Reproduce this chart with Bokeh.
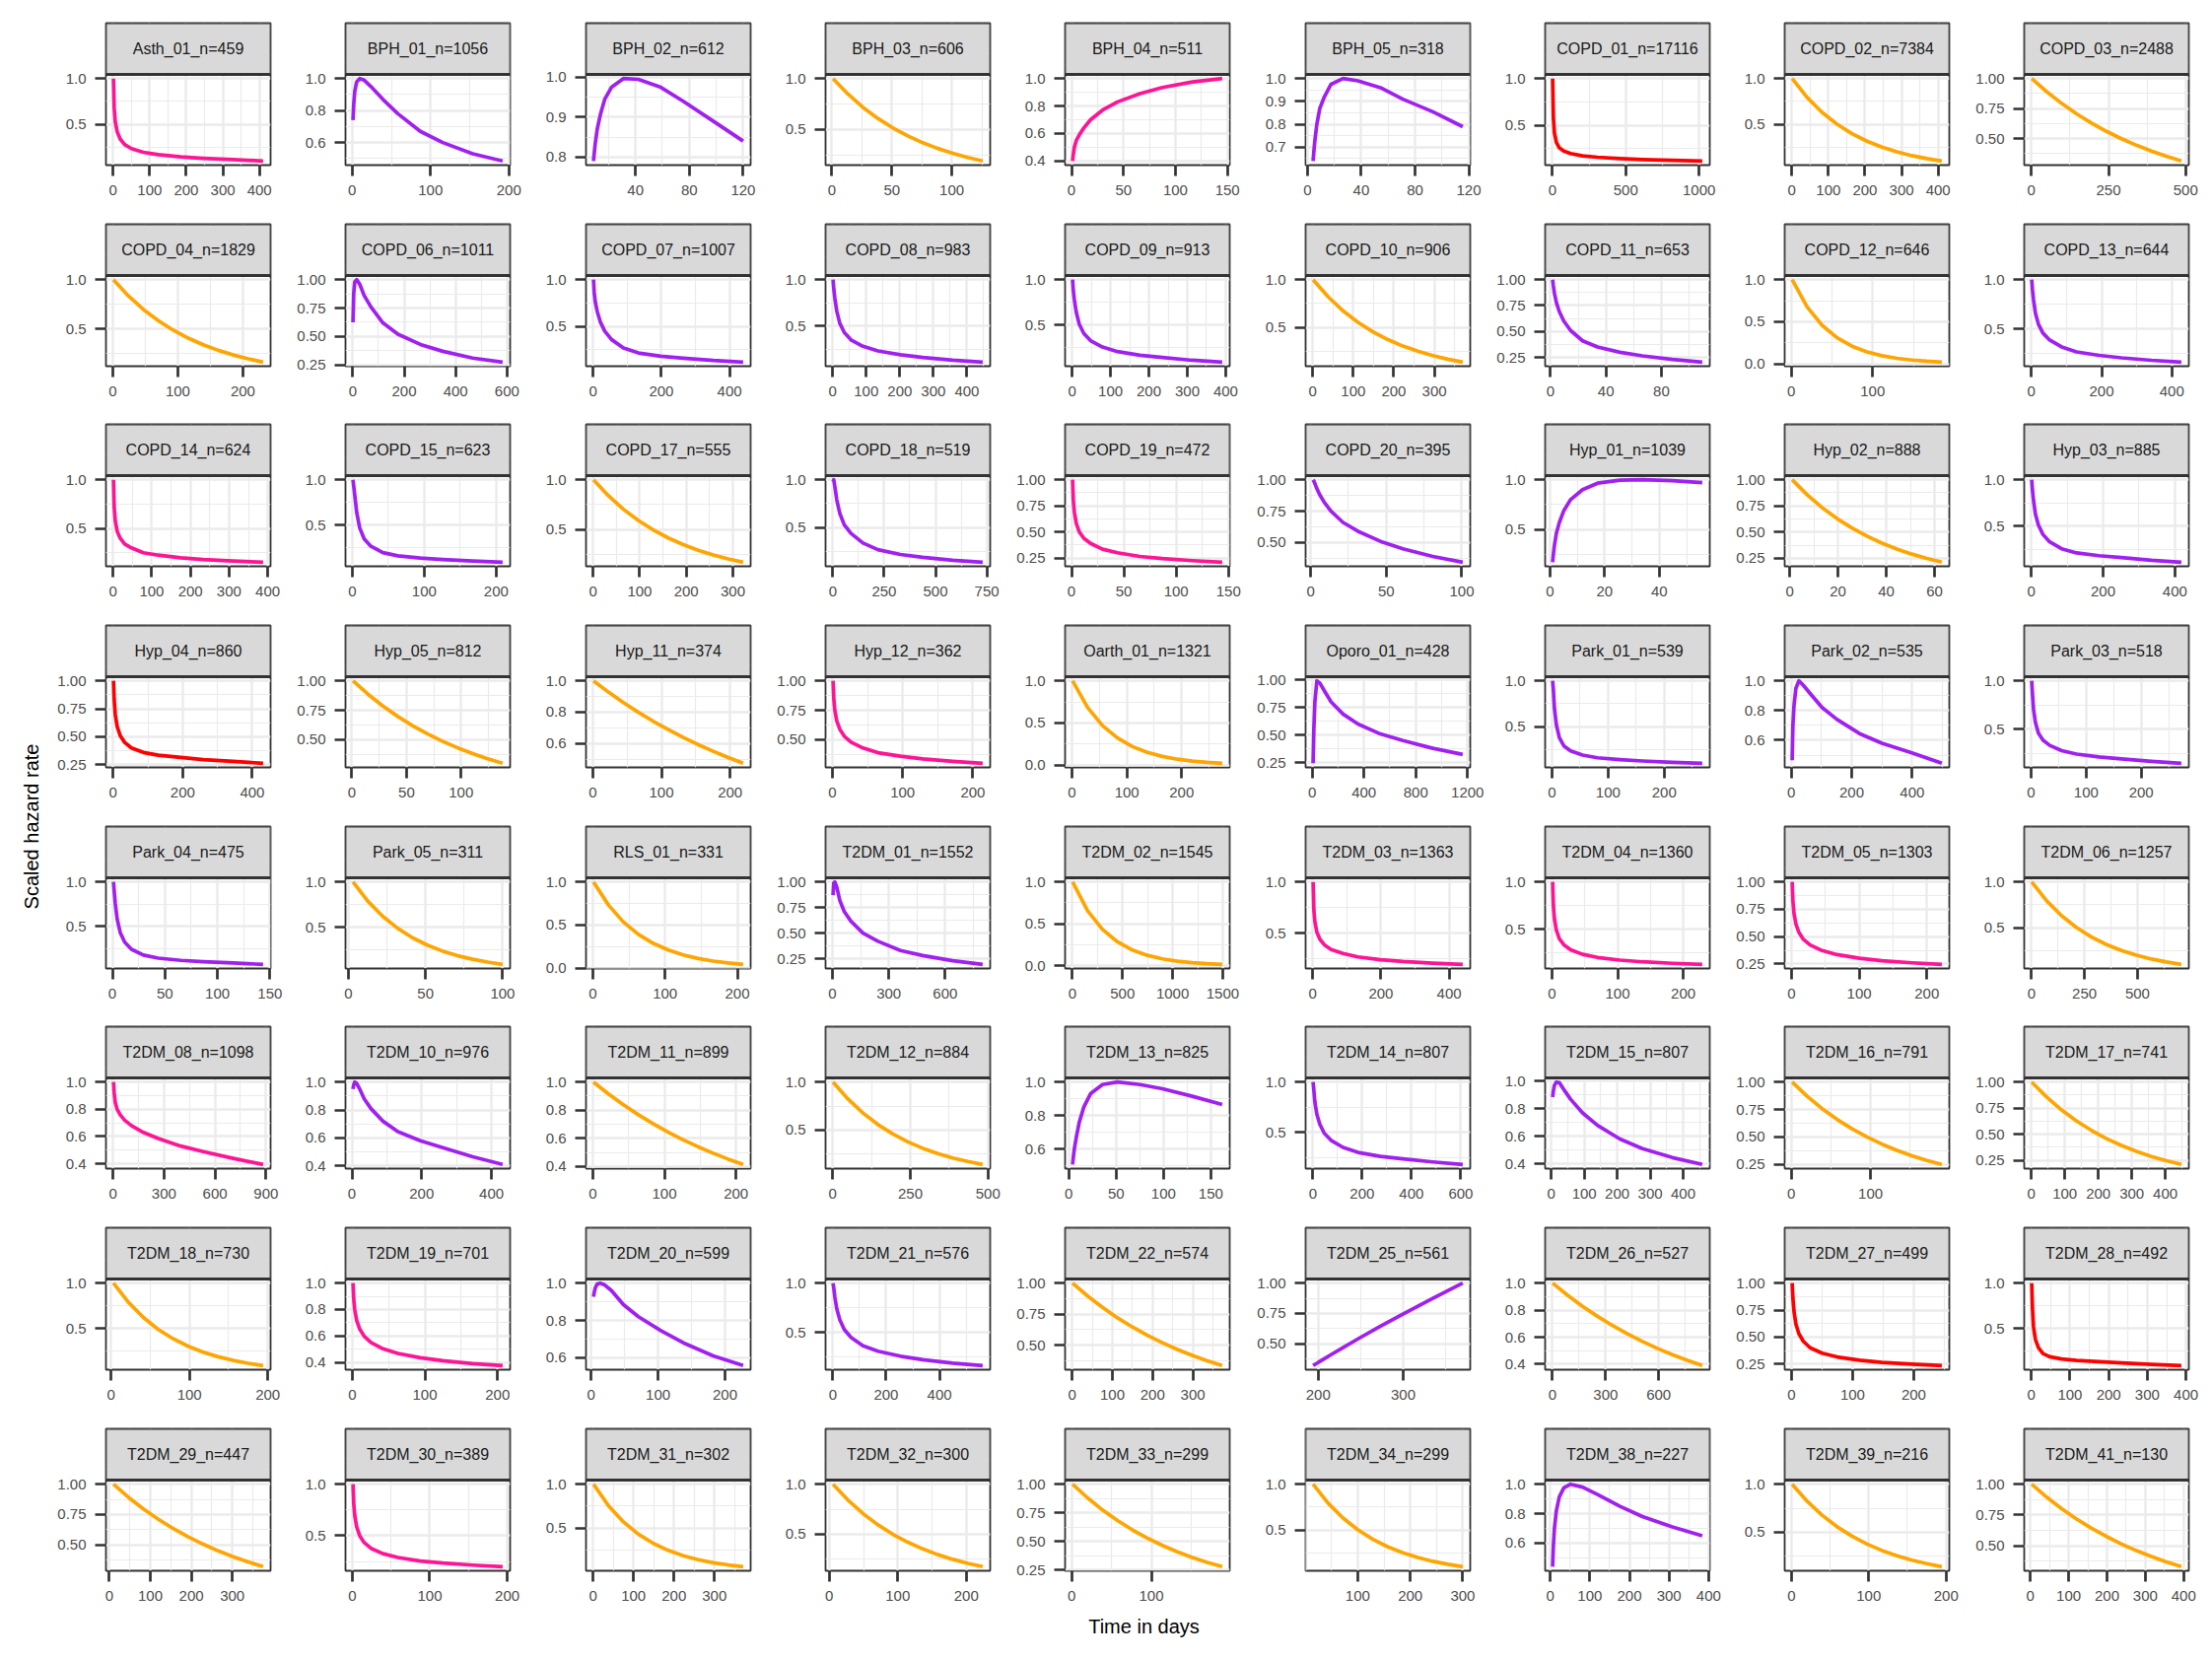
import math
from bokeh.plotting import figure
from bokeh.layouts import row, column
from bokeh.models import Range1d, FixedTicker, NumeralTickFormatter, Span
from bokeh.core.properties import value
from bokeh.embed import file_html
from bokeh.resources import INLINE

# ---------------- data ----------------
panel_names = [
    "Asth_01_n=459", "BPH_01_n=1056", "BPH_02_n=612", "BPH_03_n=606", "BPH_04_n=511",
    "BPH_05_n=318", "COPD_01_n=17116", "COPD_02_n=7384", "COPD_03_n=2488",
    "COPD_04_n=1829", "COPD_06_n=1011", "COPD_07_n=1007", "COPD_08_n=983", "COPD_09_n=913",
    "COPD_10_n=906", "COPD_11_n=653", "COPD_12_n=646", "COPD_13_n=644",
    "COPD_14_n=624", "COPD_15_n=623", "COPD_17_n=555", "COPD_18_n=519", "COPD_19_n=472",
    "COPD_20_n=395", "Hyp_01_n=1039", "Hyp_02_n=888", "Hyp_03_n=885",
    "Hyp_04_n=860", "Hyp_05_n=812", "Hyp_11_n=374", "Hyp_12_n=362", "Oarth_01_n=1321",
    "Oporo_01_n=428", "Park_01_n=539", "Park_02_n=535", "Park_03_n=518",
    "Park_04_n=475", "Park_05_n=311", "RLS_01_n=331", "T2DM_01_n=1552", "T2DM_02_n=1545",
    "T2DM_03_n=1363", "T2DM_04_n=1360", "T2DM_05_n=1303", "T2DM_06_n=1257",
    "T2DM_08_n=1098", "T2DM_10_n=976", "T2DM_11_n=899", "T2DM_12_n=884", "T2DM_13_n=825",
    "T2DM_14_n=807", "T2DM_15_n=807", "T2DM_16_n=791", "T2DM_17_n=741",
    "T2DM_18_n=730", "T2DM_19_n=701", "T2DM_20_n=599", "T2DM_21_n=576", "T2DM_22_n=574",
    "T2DM_25_n=561", "T2DM_26_n=527", "T2DM_27_n=499", "T2DM_28_n=492",
    "T2DM_29_n=447", "T2DM_30_n=389", "T2DM_31_n=302", "T2DM_32_n=300", "T2DM_33_n=299",
    "T2DM_34_n=299", "T2DM_38_n=227", "T2DM_39_n=216", "T2DM_41_n=130",
]

# model family of each fitted curve (shown by the line colour)
fit_type = [
    "weib", "llog", "llog", "exp", "weib", "llog", "ggam", "exp", "exp",
    "exp", "llog", "llog", "llog", "llog", "exp", "llog", "exp", "llog",
    "weib", "llog", "exp", "llog", "weib", "llog", "llog", "exp", "llog",
    "ggam", "exp", "exp", "weib", "exp", "llog", "llog", "llog", "llog",
    "llog", "exp", "exp", "llog", "exp", "weib", "weib", "weib", "exp",
    "weib", "llog", "exp", "exp", "llog", "llog", "llog", "exp", "exp",
    "exp", "weib", "llog", "llog", "exp", "llog", "exp", "ggam", "ggam",
    "exp", "weib", "exp", "exp", "exp", "exp", "llog", "exp", "exp",
]

# first and last time (days) of each curve
x_start = [
    1, 1, 8.8, 1, 1, 4.2, 1, 1, 1,
    1, 1, 1, 1, 1, 1, 1.5, 1, 1,
    1, 1, 1, 1, 1, 1.6, 1, 1, 1,
    1, 1, 1, 1, 1, 7, 1, 3, 1,
    1, 3, 1, 3, 1, 1, 1, 1, 1,
    3, 3, 1, 1, 4, 1, 4, 1, 1,
    3, 1, 3.7, 1, 1, 194, 1, 1, 1,
    10, 1, 1, 5.5, 1, 15, 6, 1, 3.4,
]
x_end = [
    410, 192, 120, 125.7, 145, 115.5, 1022, 410, 486,
    231, 583, 440, 447, 391, 370, 109.5, 185, 427,
    388, 209, 322, 730, 144, 100.6, 55.7, 63, 418,
    431, 138, 219, 214, 274, 1163, 268, 498, 273,
    143.5, 100, 208, 800, 1495, 440, 229, 222, 707,
    883, 432, 210, 483, 162, 608, 458, 190, 448,
    194, 207, 227, 562, 373, 370, 846, 246, 388,
    375, 194, 371, 224, 189, 300, 384, 194.5, 394,
]

x_breaks = [
    [0, 100, 200, 300, 400], [0, 100, 200], [40, 80, 120], [0, 50, 100], [0, 50, 100, 150],
    [0, 40, 80, 120], [0, 500, 1000], [0, 100, 200, 300, 400], [0, 250, 500],
    [0, 100, 200], [0, 200, 400, 600], [0, 200, 400], [0, 100, 200, 300, 400],
    [0, 100, 200, 300, 400], [0, 100, 200, 300], [0, 40, 80], [0, 100], [0, 200, 400],
    [0, 100, 200, 300, 400], [0, 100, 200], [0, 100, 200, 300], [0, 250, 500, 750],
    [0, 50, 100, 150], [0, 50, 100], [0, 20, 40], [0, 20, 40, 60], [0, 200, 400],
    [0, 200, 400], [0, 50, 100], [0, 100, 200], [0, 100, 200], [0, 100, 200],
    [0, 400, 800, 1200], [0, 100, 200], [0, 200, 400], [0, 100, 200],
    [0, 50, 100, 150], [0, 50, 100], [0, 100, 200], [0, 300, 600], [0, 500, 1000, 1500],
    [0, 200, 400], [0, 100, 200], [0, 100, 200], [0, 250, 500],
    [0, 300, 600, 900], [0, 200, 400], [0, 100, 200], [0, 250, 500], [0, 50, 100, 150],
    [0, 200, 400, 600], [0, 100, 200, 300, 400], [0, 100], [0, 100, 200, 300, 400],
    [0, 100, 200], [0, 100, 200], [0, 100, 200], [0, 200, 400], [0, 100, 200, 300],
    [200, 300], [0, 300, 600], [0, 100, 200], [0, 100, 200, 300, 400],
    [0, 100, 200, 300], [0, 100, 200], [0, 100, 200, 300], [0, 100, 200], [0, 100],
    [0, 100, 200, 300], [0, 100, 200, 300, 400], [0, 100, 200], [0, 100, 200, 300, 400],
]

Q = [0.25, 0.5, 0.75, 1.0]
H = [0.5, 1.0]
H3 = [0.5, 0.75, 1.0]
F = [0.4, 0.6, 0.8, 1.0]
y_breaks = [
    H, [0.6, 0.8, 1.0], [0.8, 0.9, 1.0], H, F, [0.7, 0.8, 0.9, 1.0], H, H, H3,
    H, Q, H, H, H, H, Q, [0.0, 0.5, 1.0], H,
    H, H, H, H, Q, H3, H, Q, H,
    Q, H3, [0.6, 0.8, 1.0], H3, [0.0, 0.5, 1.0], Q, H, [0.6, 0.8, 1.0], H,
    H, H, [0.0, 0.5, 1.0], Q, [0.0, 0.5, 1.0], H, H, Q, H,
    F, F, F, H, [0.6, 0.8, 1.0], H, F, Q, Q,
    H, F, [0.6, 0.8, 1.0], H, H3, H3, F, Q, H,
    H3, H, H, H, Q, H, [0.6, 0.8, 1.0], H, H3,
]

# scaled hazard; 13 values -> fine sampling, 11 values -> even sampling
hazard = [
    [1.0, 0.68, 0.53, 0.42, 0.34, 0.28, 0.235, 0.195, 0.17, 0.145, 0.13, 0.115, 0.10],
    [0.74, 0.84, 0.92, 0.98, 1.0, 0.99, 0.95, 0.87, 0.78, 0.67, 0.60, 0.53, 0.485],
    [0.79, 0.81, 0.835, 0.87, 0.905, 0.945, 0.975, 0.997, 0.995, 0.975, 0.94, 0.89, 0.84],
    [1.0, 0.847, 0.717, 0.608, 0.515, 0.436, 0.369, 0.313, 0.265, 0.224, 0.190],
    [0.40, 0.45, 0.50, 0.55, 0.59, 0.64, 0.70, 0.77, 0.83, 0.89, 0.935, 0.975, 1.0],
    [0.64, 0.68, 0.73, 0.80, 0.87, 0.92, 0.975, 1.0, 0.99, 0.96, 0.91, 0.855, 0.79],
    [1.0, 0.58, 0.42, 0.32, 0.26, 0.225, 0.20, 0.175, 0.16, 0.145, 0.135, 0.127, 0.12],
    [1.0, 0.794, 0.631, 0.501, 0.398, 0.316, 0.251, 0.200, 0.158, 0.126, 0.100],
    [1.0, 0.891, 0.794, 0.707, 0.630, 0.561, 0.500, 0.446, 0.397, 0.354, 0.315],

    [1.0, 0.836, 0.699, 0.585, 0.489, 0.409, 0.342, 0.286, 0.239, 0.200, 0.167],
    [0.625, 0.88, 0.98, 1.0, 0.96, 0.86, 0.76, 0.62, 0.52, 0.43, 0.37, 0.31, 0.275],
    [1.0, 0.86, 0.76, 0.66, 0.55, 0.45, 0.36, 0.27, 0.215, 0.18, 0.16, 0.135, 0.118],
    [1.0, 0.90, 0.80, 0.66, 0.53, 0.43, 0.35, 0.28, 0.23, 0.19, 0.16, 0.13, 0.11],
    [1.0, 0.88, 0.78, 0.64, 0.51, 0.41, 0.33, 0.26, 0.21, 0.17, 0.145, 0.115, 0.095],
    [1.0, 0.822, 0.675, 0.554, 0.456, 0.374, 0.307, 0.253, 0.207, 0.170, 0.140],
    [1.0, 0.94, 0.87, 0.78, 0.69, 0.60, 0.51, 0.41, 0.35, 0.30, 0.265, 0.23, 0.205],
    [1.0, 0.676, 0.457, 0.309, 0.209, 0.141, 0.096, 0.065, 0.044, 0.030, 0.020],
    [1.0, 0.90, 0.80, 0.66, 0.55, 0.46, 0.39, 0.32, 0.27, 0.235, 0.21, 0.185, 0.167],

    [1.0, 0.72, 0.58, 0.47, 0.40, 0.34, 0.30, 0.25, 0.225, 0.198, 0.18, 0.165, 0.153],
    [1.0, 0.93, 0.83, 0.64, 0.47, 0.35, 0.27, 0.20, 0.165, 0.14, 0.125, 0.108, 0.095],
    [1.0, 0.839, 0.704, 0.591, 0.496, 0.416, 0.349, 0.293, 0.246, 0.206, 0.173],
    [0.98, 1.0, 0.93, 0.79, 0.65, 0.53, 0.44, 0.34, 0.27, 0.22, 0.19, 0.16, 0.14],
    [1.0, 0.80, 0.69, 0.58, 0.50, 0.44, 0.39, 0.335, 0.30, 0.265, 0.245, 0.225, 0.21],
    [1.0, 0.99, 0.97, 0.93, 0.88, 0.82, 0.75, 0.66, 0.59, 0.51, 0.45, 0.39, 0.344],
    [0.17, 0.25, 0.34, 0.46, 0.57, 0.69, 0.80, 0.90, 0.965, 0.995, 1.0, 0.99, 0.97],
    [1.0, 0.857, 0.734, 0.629, 0.539, 0.462, 0.395, 0.339, 0.290, 0.249, 0.213],
    [1.0, 0.89, 0.78, 0.63, 0.51, 0.41, 0.33, 0.255, 0.21, 0.18, 0.16, 0.13, 0.11],

    [1.0, 0.83, 0.70, 0.59, 0.51, 0.45, 0.40, 0.36, 0.335, 0.315, 0.295, 0.28, 0.263],
    [1.0, 0.887, 0.786, 0.697, 0.618, 0.548, 0.486, 0.431, 0.382, 0.338, 0.300],
    [1.0, 0.928, 0.861, 0.799, 0.741, 0.688, 0.638, 0.592, 0.550, 0.510, 0.473],
    [1.0, 0.85, 0.75, 0.66, 0.59, 0.53, 0.48, 0.43, 0.39, 0.36, 0.337, 0.316, 0.30],
    [1.0, 0.686, 0.470, 0.323, 0.221, 0.152, 0.104, 0.071, 0.049, 0.034, 0.023],
    [0.245, 0.55, 0.80, 0.99, 0.97, 0.90, 0.80, 0.69, 0.60, 0.51, 0.45, 0.38, 0.325],
    [1.0, 0.90, 0.70, 0.52, 0.38, 0.29, 0.235, 0.19, 0.16, 0.14, 0.125, 0.11, 0.10],
    [0.465, 0.70, 0.83, 0.95, 1.0, 0.97, 0.915, 0.82, 0.74, 0.645, 0.58, 0.515, 0.445],
    [1.0, 0.87, 0.71, 0.57, 0.46, 0.39, 0.335, 0.28, 0.245, 0.215, 0.195, 0.17, 0.15],

    [1.0, 0.90, 0.76, 0.58, 0.43, 0.32, 0.24, 0.175, 0.14, 0.115, 0.10, 0.085, 0.07],
    [1.0, 0.786, 0.618, 0.486, 0.382, 0.300, 0.236, 0.185, 0.146, 0.115, 0.090],
    [1.0, 0.732, 0.535, 0.392, 0.287, 0.210, 0.154, 0.112, 0.082, 0.060, 0.044],
    [0.87, 0.99, 1.0, 0.95, 0.82, 0.71, 0.615, 0.50, 0.42, 0.33, 0.28, 0.23, 0.194],
    [1.0, 0.657, 0.432, 0.284, 0.186, 0.123, 0.081, 0.053, 0.035, 0.023, 0.015],
    [1.0, 0.73, 0.61, 0.51, 0.44, 0.386, 0.34, 0.30, 0.267, 0.24, 0.222, 0.205, 0.194],
    [1.0, 0.75, 0.61, 0.49, 0.40, 0.337, 0.284, 0.236, 0.203, 0.175, 0.157, 0.141, 0.13],
    [1.0, 0.825, 0.715, 0.616, 0.54, 0.476, 0.424, 0.373, 0.336, 0.303, 0.281, 0.261, 0.247],
    [1.0, 0.794, 0.631, 0.501, 0.398, 0.316, 0.251, 0.200, 0.158, 0.126, 0.100],

    [1.0, 0.92, 0.85, 0.80, 0.76, 0.72, 0.68, 0.63, 0.585, 0.53, 0.49, 0.44, 0.395],
    [0.95, 0.98, 1.0, 0.99, 0.95, 0.88, 0.81, 0.72, 0.645, 0.58, 0.53, 0.465, 0.41],
    [1.0, 0.916, 0.839, 0.768, 0.703, 0.644, 0.590, 0.540, 0.495, 0.453, 0.415],
    [1.0, 0.823, 0.678, 0.558, 0.460, 0.378, 0.311, 0.256, 0.211, 0.174, 0.143],
    [0.507, 0.55, 0.60, 0.67, 0.76, 0.85, 0.93, 0.985, 1.0, 0.985, 0.96, 0.915, 0.866],
    [1.0, 0.92, 0.80, 0.68, 0.58, 0.49, 0.42, 0.35, 0.30, 0.26, 0.235, 0.205, 0.18],
    [0.885, 0.93, 0.97, 0.995, 0.99, 0.94, 0.87, 0.77, 0.68, 0.58, 0.51, 0.445, 0.395],
    [1.0, 0.871, 0.758, 0.660, 0.574, 0.500, 0.435, 0.379, 0.330, 0.287, 0.250],
    [1.0, 0.856, 0.732, 0.626, 0.536, 0.458, 0.392, 0.335, 0.287, 0.246, 0.210],

    [1.0, 0.789, 0.622, 0.490, 0.387, 0.305, 0.241, 0.190, 0.150, 0.118, 0.093],
    [1.0, 0.878, 0.796, 0.717, 0.652, 0.598, 0.551, 0.503, 0.468, 0.435, 0.413, 0.391, 0.376],
    [0.927, 0.95, 0.975, 0.995, 1.0, 0.99, 0.96, 0.885, 0.82, 0.745, 0.68, 0.61, 0.558],
    [1.0, 0.95, 0.86, 0.74, 0.63, 0.53, 0.45, 0.365, 0.31, 0.26, 0.225, 0.19, 0.165],
    [1.0, 0.896, 0.804, 0.720, 0.646, 0.579, 0.519, 0.465, 0.417, 0.374, 0.335],
    [0.32, 0.324, 0.329, 0.339, 0.354, 0.376, 0.41, 0.468, 0.54, 0.645, 0.745, 0.875, 1.0],
    [1.0, 0.910, 0.828, 0.754, 0.686, 0.625, 0.568, 0.517, 0.471, 0.429, 0.390],
    [1.0, 0.86, 0.74, 0.62, 0.53, 0.46, 0.40, 0.35, 0.315, 0.285, 0.265, 0.248, 0.235],
    [1.0, 0.73, 0.52, 0.38, 0.29, 0.225, 0.19, 0.165, 0.15, 0.135, 0.122, 0.105, 0.093],

    [1.0, 0.892, 0.796, 0.711, 0.634, 0.566, 0.505, 0.450, 0.402, 0.359, 0.320],
    [1.0, 0.81, 0.695, 0.585, 0.50, 0.433, 0.378, 0.326, 0.289, 0.255, 0.235, 0.215, 0.20],
    [1.0, 0.755, 0.570, 0.430, 0.325, 0.245, 0.185, 0.140, 0.105, 0.080, 0.060],
    [1.0, 0.841, 0.707, 0.594, 0.499, 0.420, 0.353, 0.296, 0.249, 0.209, 0.176],
    [1.0, 0.881, 0.775, 0.683, 0.601, 0.529, 0.466, 0.410, 0.361, 0.318, 0.280],
    [1.0, 0.794, 0.631, 0.501, 0.398, 0.316, 0.251, 0.200, 0.158, 0.126, 0.100],
    [0.44, 0.58, 0.70, 0.82, 0.915, 0.975, 1.0, 0.98, 0.93, 0.85, 0.78, 0.71, 0.65],
    [1.0, 0.823, 0.678, 0.558, 0.460, 0.378, 0.311, 0.256, 0.211, 0.174, 0.143],
    [1.0, 0.895, 0.801, 0.717, 0.642, 0.575, 0.514, 0.460, 0.412, 0.369, 0.330],
]

# where, along each curve's time span, the values above were read
sample_fine = [0, 0.005, 0.012, 0.025, 0.045, 0.075, 0.12, 0.2, 0.3, 0.45, 0.6, 0.8, 1.0]
sample_even = [0, 0.1, 0.2, 0.3, 0.4, 0.5, 0.6, 0.7, 0.8, 0.9, 1.0]

# ---------------- styling / layout ----------------
LINE_COLOURS = {"exp": "#FFA500", "llog": "#A020F0", "weib": "#FF1493", "ggam": "#FF0000"}
FONT = "Liberation Sans"
NCOL = 9
COL_W = [243, 244, 243, 243, 244, 243, 243, 243, 243]
ROW_TOP = [23, 15, 15, 15, 15, 15, 15, 15]
ROW_H = [212, 203, 204, 204, 203, 204, 204, 204]
LEFT = 60
FRAME_W = 167
STRIP_H = 52
FRAME_H = 92
BORDER = "#333333"
GRID = "#EBEBEB"


def minor_of(br):
    step = br[1] - br[0]
    return [br[0] - step / 2] + [(a + b) / 2 for a, b in zip(br, br[1:])] + [br[-1] + step / 2]


def make_panel(i, w, top, bottom):
    vals = hazard[i]
    fr = sample_fine if len(vals) == len(sample_fine) else sample_even
    x0, x1 = x_start[i], x_end[i]
    xs = [x0 + f * (x1 - x0) for f in fr]
    dx = x1 - x0
    xlo, xhi = x0 - 0.05 * dx, x1 + 0.05 * dx
    ymin, ymax = min(vals), max(vals)
    dy = ymax - ymin
    ylo, yhi = ymin - 0.05 * dy, ymax + 0.05 * dy
    # the facet strip sits in the top part of the frame
    strip_hi = yhi + (yhi - ylo) * STRIP_H / FRAME_H
    p = figure(width=w, height=top + STRIP_H + FRAME_H + bottom,
               x_range=Range1d(xlo, xhi), y_range=Range1d(ylo, strip_hi),
               toolbar_location=None, output_backend="svg", title=None,
               min_border_left=LEFT, min_border_right=w - LEFT - FRAME_W,
               min_border_top=top, min_border_bottom=bottom,
               background_fill_color="white", border_fill_color="white",
               outline_line_color=BORDER, outline_line_width=1.8)
    xb, yb = x_breaks[i], y_breaks[i]
    p.xaxis.ticker = FixedTicker(ticks=xb, minor_ticks=minor_of(xb))
    p.yaxis.ticker = FixedTicker(ticks=yb, minor_ticks=minor_of(yb))
    p.xaxis.formatter = NumeralTickFormatter(format="0")
    two = any(abs(round(t * 100)) % 10 != 0 for t in yb)
    p.yaxis.formatter = NumeralTickFormatter(format="0.00" if two else "0.0")
    for ax in (p.xaxis[0], p.yaxis[0]):
        ax.axis_line_color = None
        ax.major_tick_line_color = BORDER
        ax.major_tick_line_width = 2.7
        ax.major_tick_out = 11
        ax.major_tick_in = 0
        ax.minor_tick_line_color = None
        ax.major_label_text_font = FONT
        ax.major_label_text_font_size = "15px"
        ax.major_label_text_color = "#4D4D4D"
        ax.major_label_standoff = 9
    for g in (p.xgrid[0], p.ygrid[0]):
        g.grid_line_color = GRID
        g.grid_line_width = 2.4
        g.minor_grid_line_color = GRID
        g.minor_grid_line_width = 1.2
    p.line(x=xs, y=vals, line_color=LINE_COLOURS[fit_type[i]], line_width=3.7,
           line_join="round")
    p.quad(left=[xlo], right=[xhi], bottom=[yhi], top=[strip_hi],
           fill_color="#D9D9D9", line_color=BORDER, line_width=1.8)
    p.add_layout(Span(location=yhi, dimension="width", line_color=BORDER, line_width=3.2))
    p.text(x=[(xlo + xhi) / 2], y=[(yhi + strip_hi) / 2], text=[panel_names[i]],
           text_align="center", text_baseline="middle", text_font=value(FONT),
           text_font_size="16px", text_color="#1A1A1A")
    return p


rows = []
for r, rh in enumerate(ROW_H):
    cells = []
    top = ROW_TOP[r]
    bottom = rh - top - STRIP_H - FRAME_H
    for c in range(NCOL):
        i = r * NCOL + c
        cells.append(make_panel(i, COL_W[c], top, bottom))
    rows.append(row(*cells))
grid = column(*rows)

GRID_W = sum(COL_W)
GRID_H = sum(ROW_H)
YLAB_W = 47

ylab = figure(width=YLAB_W, height=GRID_H, x_range=Range1d(0, YLAB_W), y_range=Range1d(0, GRID_H),
              x_axis_type=None, y_axis_type=None, toolbar_location=None, output_backend="svg",
              title=None, min_border=0, outline_line_color=None)
ylab.grid.visible = False
ylab.text(x=[31], y=[GRID_H - 838], text=["Scaled hazard rate"], angle=math.pi / 2,
          text_align="center", text_baseline="middle", text_font=value(FONT),
          text_font_size="20px", text_color="black")

XLAB_H = 28
xlab = figure(width=GRID_W, height=XLAB_H, x_range=Range1d(0, GRID_W), y_range=Range1d(0, XLAB_H),
              x_axis_type=None, y_axis_type=None, toolbar_location=None, output_backend="svg",
              title=None, min_border=0, outline_line_color=None)
xlab.grid.visible = False
xlab.text(x=[1113], y=[17], text=["Time in days"], text_align="center", text_baseline="middle",
          text_font=value(FONT), text_font_size="20px", text_color="black")

layout = row(ylab, column(grid, xlab))

open("out.html", "w").write(file_html(layout, INLINE))
